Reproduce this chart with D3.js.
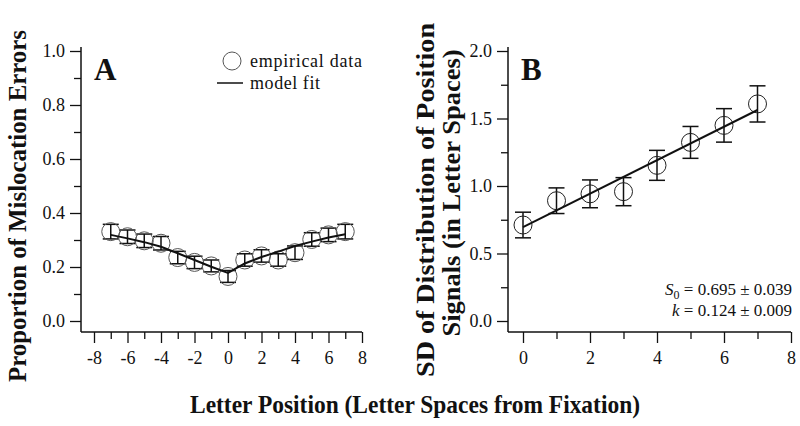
<!DOCTYPE html>
<html>
<head>
<meta charset="utf-8">
<script src="https://cdn.jsdelivr.net/npm/d3@7"></script>
<style>
  body { margin: 0; background: #fff; }
  svg text { font-family: "Liberation Serif", serif; fill: #111; }
</style>
</head>
<body>
<svg id="chart" width="800" height="426"></svg>
<script>
// panel A: mislocation errors by letter position
const positionsA = [-7, -6, -5, -4, -3, -2, -1, 0, 1, 2, 3, 4, 5, 6, 7];
const errorsA    = [0.331, 0.312, 0.297, 0.288, 0.235, 0.217, 0.204, 0.165, 0.226, 0.241, 0.226, 0.253, 0.302, 0.319, 0.331];
const semA       = [0.027, 0.025, 0.025, 0.025, 0.023, 0.023, 0.022, 0.022, 0.023, 0.023, 0.023, 0.025, 0.025, 0.025, 0.027];
const fitA       = [0.319, 0.306, 0.292, 0.275, 0.251, 0.226, 0.201, 0.178, 0.213, 0.237, 0.257, 0.278, 0.294, 0.309, 0.321];

// panel B: SD of position signals
const positionsB = [0, 1, 2, 3, 4, 5, 6, 7];
const sdB        = [0.711, 0.891, 0.942, 0.958, 1.153, 1.323, 1.449, 1.608];
const semB       = [0.095, 0.095, 0.103, 0.104, 0.111, 0.118, 0.124, 0.134];
const fitXB      = [0, 7];
const fitB       = [0.695, 1.563];

const xTicksA = [-8, -6, -4, -2, 0, 2, 4, 6, 8];
const xMinorA = [-7, -5, -3, -1, 1, 3, 5, 7];
const yTicksA = [0, 0.2, 0.4, 0.6, 0.8, 1.0];
const yMinorA = [0.1, 0.3, 0.5, 0.7, 0.9];
const xTicksB = [0, 2, 4, 6, 8];
const xMinorB = [1, 3, 5, 7];
const yTicksB = [0, 0.5, 1.0, 1.5, 2.0];
const yMinorB = [0.25, 0.75, 1.25, 1.75];

const svg = d3.select("#chart");
const yTop = 51, yBottom = 321, axisY = 332;
const serif = "Liberation Serif, serif";

function drawPanel(opt) {
  const g = svg.append("g");
  const x = d3.scaleLinear().domain(opt.xDomain).range(opt.xRange);
  const y = d3.scaleLinear().domain(opt.yDomain).range([yBottom, yTop]);

  // x axis
  const xa = g.append("g").attr("transform", "translate(0," + axisY + ")");
  xa.call(d3.axisBottom(x).tickValues(opt.xTicks).tickSize(11).tickPadding(8)
      .tickFormat(d => String(d)));
  xa.append("g").call(d3.axisBottom(x).tickValues(opt.xMinor).tickSize(7).tickFormat(""));
  xa.selectAll(".domain").remove();
  xa.append("line").attr("x1", opt.axisX).attr("x2", opt.xRange[1])
    .attr("stroke", "#111").attr("stroke-width", 1.5);

  // y axis
  const ya = g.append("g").attr("transform", "translate(" + opt.axisX + ",0)");
  ya.call(d3.axisLeft(y).tickValues(opt.yTicks).tickSize(11).tickPadding(5)
      .tickFormat(d3.format(".1f")));
  ya.append("g").call(d3.axisLeft(y).tickValues(opt.yMinor).tickSize(7).tickFormat(""));
  ya.selectAll(".domain").remove();
  ya.append("line").attr("y1", yTop - 4).attr("y2", axisY)
    .attr("stroke", "#111").attr("stroke-width", 1.5);

  g.selectAll(".tick line").attr("stroke", "#111").attr("stroke-width", 1.3);
  g.selectAll(".tick text").attr("fill", "#222")
    .style("font-family", serif).style("font-size", "18px");

  // panel letter
  g.append("text").attr("x", opt.axisX + 13).attr("y", 80)
    .style("font-size", "31px").style("font-weight", "bold").text(opt.letter);

  // error bars
  const bars = g.append("g").selectAll("g").data(opt.xs).enter().append("g");
  bars.append("line")
    .attr("x1", d => x(d)).attr("x2", d => x(d))
    .attr("y1", (d, i) => y(opt.ys[i] - opt.err[i]))
    .attr("y2", (d, i) => y(opt.ys[i] + opt.err[i]))
    .attr("stroke", "#111").attr("stroke-width", 1.5);
  [-1, 1].forEach(s => {
    bars.append("line")
      .attr("x1", d => x(d) - 8).attr("x2", d => x(d) + 8)
      .attr("y1", (d, i) => y(opt.ys[i] + s * opt.err[i]))
      .attr("y2", (d, i) => y(opt.ys[i] + s * opt.err[i]))
      .attr("stroke", "#111").attr("stroke-width", 1.5);
  });

  // circles
  g.append("g").selectAll("circle").data(opt.xs).enter().append("circle")
    .attr("cx", d => x(d)).attr("cy", (d, i) => y(opt.ys[i]))
    .attr("r", 9).attr("fill", "none")
    .attr("stroke", opt.circleColor).attr("stroke-width", 1);

  // fit line
  const line = d3.line().x(d => x(d[0])).y(d => y(d[1]));
  g.append("path").datum(d3.zip(opt.fitX, opt.fitY))
    .attr("d", line).attr("fill", "none")
    .attr("stroke", "#111").attr("stroke-width", 2);

  return {g, x, y};
}

const A = drawPanel({
  letter: "A", axisX: 81, xDomain: [-8, 8], xRange: [94, 362], yDomain: [0, 1],
  xTicks: xTicksA, xMinor: xMinorA, yTicks: yTicksA, yMinor: yMinorA,
  xs: positionsA, ys: errorsA, err: semA, fitX: positionsA, fitY: fitA,
  circleColor: "#555"
});

const B = drawPanel({
  letter: "B", axisX: 508, xDomain: [0, 8], xRange: [523, 791], yDomain: [0, 2],
  xTicks: xTicksB, xMinor: xMinorB, yTicks: yTicksB, yMinor: yMinorB,
  xs: positionsB, ys: sdB, err: semB, fitX: fitXB, fitY: fitB,
  circleColor: "#222"
});

// legend in panel A
const leg = A.g.append("g").style("font-size", "18px");
leg.append("circle").attr("cx", 232).attr("cy", 61).attr("r", 9)
  .attr("fill", "none").attr("stroke", "#555").attr("stroke-width", 1);
leg.append("text").attr("x", 250).attr("y", 67).attr("textLength", 112).text("empirical data");
leg.append("line").attr("x1", 217).attr("x2", 243).attr("y1", 83).attr("y2", 83)
  .attr("stroke", "#111").attr("stroke-width", 1.5);
leg.append("text").attr("x", 250).attr("y", 89).attr("textLength", 70).text("model fit");

// fit parameters in panel B
const ann = B.g.append("g").style("font-size", "17px");
const t1 = ann.append("text").attr("x", 792).attr("y", 295).attr("text-anchor", "end");
t1.append("tspan").style("font-style", "italic").text("S");
t1.append("tspan").attr("dy", 4).style("font-size", "12px").text("0");
t1.append("tspan").attr("dy", -4).text(" = 0.695 \u00b1 0.039");
const t2 = ann.append("text").attr("x", 792).attr("y", 316).attr("text-anchor", "end");
t2.append("tspan").style("font-style", "italic").text("k");
t2.append("tspan").text(" = 0.124 \u00b1 0.009");

// axis titles
svg.append("text").attr("transform", "translate(26,206) rotate(-90)")
  .attr("text-anchor", "middle").style("font-size", "25px").style("font-weight", "bold")
  .attr("textLength", 352).attr("lengthAdjust", "spacingAndGlyphs")
  .text("Proportion of Mislocation Errors");

svg.append("text").attr("transform", "translate(434,200) rotate(-90)")
  .attr("text-anchor", "middle").style("font-size", "25px").style("font-weight", "bold")
  .attr("textLength", 354).attr("lengthAdjust", "spacingAndGlyphs")
  .text("SD of Distribution of Position");
svg.append("text").attr("transform", "translate(460,193) rotate(-90)")
  .attr("text-anchor", "middle").style("font-size", "25px").style("font-weight", "bold")
  .attr("textLength", 287).attr("lengthAdjust", "spacingAndGlyphs")
  .text("Signals (in Letter Spaces)");

svg.append("text").attr("x", 415).attr("y", 413)
  .attr("text-anchor", "middle").style("font-size", "25px").style("font-weight", "bold")
  .attr("textLength", 450).attr("lengthAdjust", "spacingAndGlyphs")
  .text("Letter Position (Letter Spaces from Fixation)");
</script>
</body>
</html>
